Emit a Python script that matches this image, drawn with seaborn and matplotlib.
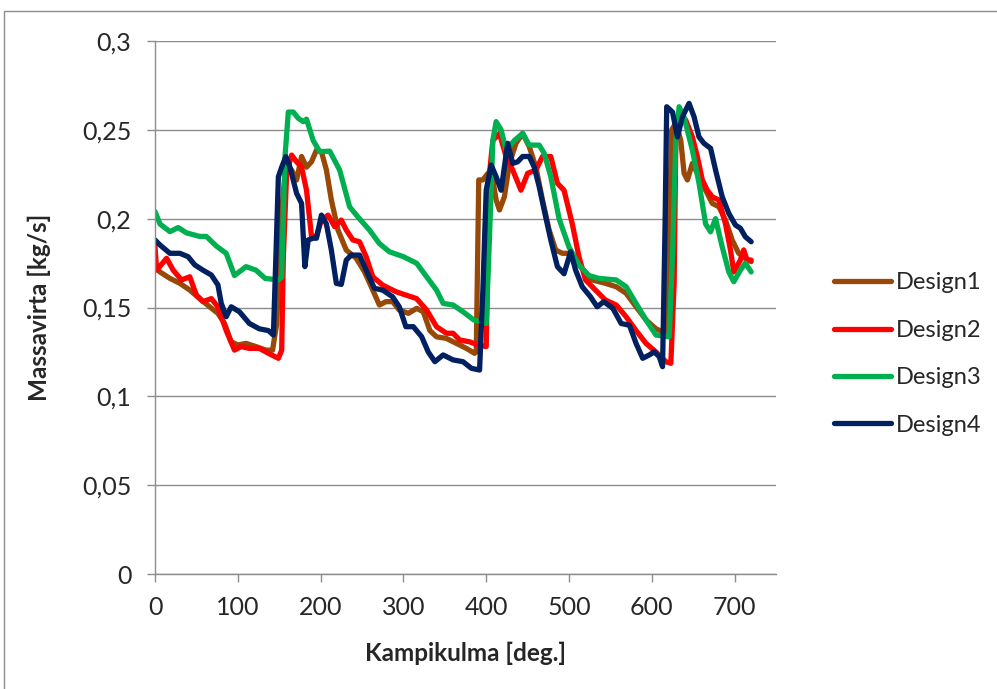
import pandas as pd
import matplotlib
matplotlib.use('Agg')
import matplotlib.pyplot as plt
import seaborn as sns
from matplotlib.patches import Rectangle
from matplotlib.ticker import FuncFormatter

# Kampikulma [deg.] ja massavirta [kg/s] jokaiselle designille
x1 = [0, 6, 18, 30, 42, 54, 66, 76, 84, 92, 100, 110, 122, 134, 142, 147, 151, 155, 159, 165,
      171, 177, 183, 189, 195, 201, 207, 213, 221, 231, 243, 253, 263, 271, 279, 287, 295, 306,
      316, 324, 332, 340, 352, 364, 376, 386, 388, 391, 396, 402, 408, 412, 416, 422, 428, 436,
      444, 452, 460, 468, 476, 484, 492, 500, 512, 528, 544, 557, 569, 581, 593, 605, 613, 618,
      621, 624, 629, 635, 639, 643, 649, 657, 665, 673, 681, 689, 697, 705, 713, 720]
design1 = [0.173, 0.170, 0.1664, 0.1636, 0.1598, 0.155, 0.1504, 0.1467, 0.141, 0.1307, 0.1289,
           0.1298, 0.128, 0.126, 0.126, 0.141, 0.188, 0.216, 0.229, 0.2274, 0.2218, 0.235, 0.229,
           0.232, 0.2386, 0.2377, 0.2274, 0.2105, 0.1936, 0.1823, 0.1777, 0.1701, 0.1598, 0.1514,
           0.1533, 0.1533, 0.1486, 0.1467, 0.1495, 0.1476, 0.137, 0.1335, 0.1326, 0.1298, 0.127,
           0.1242, 0.125, 0.2218, 0.2218, 0.2255, 0.2218, 0.2105, 0.2049, 0.2124, 0.2311, 0.2424,
           0.248, 0.2405, 0.229, 0.2105, 0.1936, 0.1823, 0.1805, 0.1805, 0.174, 0.1655, 0.1636,
           0.1617, 0.158, 0.1504, 0.143, 0.138, 0.1364, 0.135, 0.196, 0.25, 0.2537, 0.244, 0.2255,
           0.2218, 0.2311, 0.2236, 0.216, 0.2086, 0.2067, 0.1992, 0.188, 0.1805, 0.1777, 0.1758]

x2 = [0, 2, 14, 22, 32, 42, 50, 58, 68, 76, 86, 96, 104, 114, 126, 137, 149, 153, 155, 159,
      165, 171, 177, 183, 189, 195, 201, 209, 217, 225, 231, 239, 247, 255, 263, 275, 291, 303,
      316, 328, 340, 352, 360, 368, 380, 390, 400, 402, 404, 408, 416, 424, 432, 442, 450, 460,
      468, 478, 486, 494, 504, 512, 520, 532, 544, 557, 569, 581, 593, 605, 617, 623, 627, 629,
      633, 641, 649, 655, 661, 667, 673, 681, 689, 695, 699, 707, 711, 715, 720]
design2 = [0.1842, 0.171, 0.1777, 0.171, 0.1655, 0.1673, 0.157, 0.1533, 0.155, 0.1504, 0.137,
           0.126, 0.128, 0.127, 0.127, 0.1242, 0.1214, 0.126, 0.1786, 0.2255, 0.2358, 0.232,
           0.229, 0.216, 0.19, 0.19, 0.1992, 0.202, 0.1955, 0.1992, 0.1936, 0.188, 0.187, 0.1786,
           0.1673, 0.1626, 0.1589, 0.157, 0.155, 0.1486, 0.1392, 0.1355, 0.1355, 0.1317, 0.1307,
           0.1289, 0.128, 0.18, 0.2255, 0.244, 0.248, 0.235, 0.2274, 0.216, 0.2255, 0.2274, 0.235,
           0.235, 0.2199, 0.216, 0.197, 0.1786, 0.1655, 0.1598, 0.1542, 0.1514, 0.1448, 0.137,
           0.1298, 0.125, 0.1195, 0.1186, 0.164, 0.244, 0.259, 0.2555, 0.246, 0.235, 0.2218, 0.216,
           0.2123, 0.2105, 0.197, 0.1824, 0.17, 0.1767, 0.1824, 0.1767, 0.1767]

x3 = [0, 6, 18, 28, 38, 54, 62, 74, 86, 96, 110, 122, 133, 149, 153, 157, 161, 167, 173, 179,
      183, 191, 199, 211, 223, 235, 245, 259, 271, 283, 300, 316, 328, 340, 348, 360, 372, 385,
      400, 404, 408, 412, 418, 424, 434, 444, 452, 464, 470, 478, 488, 500, 512, 524, 536, 557,
      569, 581, 593, 605, 621, 625, 629, 633, 639, 649, 657, 665, 671, 677, 685, 693, 699, 707,
      713, 720]
design3 = [0.204, 0.197, 0.1927, 0.195, 0.192, 0.19, 0.19, 0.1846, 0.1805, 0.168, 0.173, 0.171,
           0.1664, 0.1655, 0.167, 0.2349, 0.26, 0.26, 0.2565, 0.2546, 0.256, 0.244, 0.2377, 0.238,
           0.2274, 0.2067, 0.201, 0.1936, 0.186, 0.1814, 0.1786, 0.1749, 0.1673, 0.1598, 0.1523,
           0.1514, 0.1476, 0.143, 0.141, 0.19, 0.244, 0.2546, 0.25, 0.2386, 0.244, 0.248, 0.2414,
           0.2414, 0.2368, 0.2236, 0.2, 0.184, 0.174, 0.168, 0.1664, 0.1655, 0.1617, 0.1523, 0.143,
           0.1345, 0.1335, 0.179, 0.244, 0.263, 0.257, 0.2386, 0.22, 0.197, 0.1926, 0.2, 0.1842,
           0.17, 0.1645, 0.171, 0.175, 0.17]

x4 = [0, 6, 18, 30, 40, 48, 58, 68, 76, 80, 86, 92, 102, 114, 126, 137, 143, 146, 149, 153,
      158, 163, 171, 177, 181, 185, 191, 195, 201, 207, 213, 219, 225, 231, 237, 247, 255, 265,
      275, 287, 295, 303, 312, 322, 330, 338, 348, 360, 372, 382, 392, 396, 400, 406, 412, 418,
      426, 432, 438, 444, 452, 458, 464, 470, 478, 486, 494, 502, 508, 516, 526, 534, 542, 553,
      563, 573, 581, 589, 597, 603, 609, 613, 616, 618, 625, 631, 637, 645, 651, 657, 663, 671,
      677, 685, 693, 701, 707, 713, 720]
design4 = [0.188, 0.1852, 0.1805, 0.1805, 0.1786, 0.174, 0.171, 0.1683, 0.1627, 0.1524, 0.1448,
           0.1504, 0.1476, 0.141, 0.138, 0.137, 0.1345, 0.1786, 0.2236, 0.229, 0.235, 0.229,
           0.2143, 0.2086, 0.173, 0.188, 0.189, 0.189, 0.202, 0.197, 0.1823, 0.1636, 0.163, 0.1767,
           0.1795, 0.1795, 0.171, 0.1608, 0.1598, 0.156, 0.1504, 0.1392, 0.1392, 0.1336, 0.125,
           0.1195, 0.1233, 0.1205, 0.1195, 0.1158, 0.1148, 0.16, 0.216, 0.2302, 0.2236, 0.216,
           0.2424, 0.2311, 0.232, 0.235, 0.235, 0.229, 0.218, 0.2049, 0.188, 0.173, 0.169, 0.1814,
           0.171, 0.1617, 0.156, 0.1504, 0.1533, 0.1495, 0.141, 0.14, 0.1298, 0.1214, 0.1233,
           0.125, 0.1223, 0.1167, 0.196, 0.263, 0.26, 0.246, 0.2574, 0.2649, 0.2574, 0.246, 0.2424,
           0.2396, 0.2274, 0.2124, 0.203, 0.1964, 0.1946, 0.1898, 0.187]

series = ['Design1', 'Design2', 'Design3', 'Design4']
colors = ['#984807', '#FF0000', '#00B050', '#002060']

frames = []
for name, xs, ys in zip(series, [x1, x2, x3, x4], [design1, design2, design3, design4]):
    frames.append(pd.DataFrame({'Kampikulma': xs, 'Massavirta': ys, 'Design': name}))
df = pd.concat(frames, ignore_index=True)

sns.set_style('white')
plt.rcParams['font.family'] = ['Lato', 'DejaVu Sans']

fig = plt.figure(figsize=(9.97, 6.89), dpi=100)
ax = fig.add_axes([155 / 997, 1 - 574 / 689, (776 - 155) / 997, (574 - 41) / 689])

sns.lineplot(data=df, x='Kampikulma', y='Massavirta', hue='Design', palette=colors,
             estimator=None, sort=False, linewidth=3.8, ax=ax)
for line in ax.get_lines():
    line.set_solid_capstyle('round')
    line.set_solid_joinstyle('round')

ax.set_xlim(0, 750)
ax.set_ylim(0, 0.3)
ax.set_xticks(range(0, 701, 100))
ax.set_yticks([0, 0.05, 0.1, 0.15, 0.2, 0.25, 0.3])
ax.yaxis.set_major_formatter(FuncFormatter(lambda v, p: ('%g' % round(v, 2)).replace('.', ',')))

grid_col = '#8c8c8c'
ax.grid(axis='y', color=grid_col, linewidth=1)
ax.set_axisbelow(True)
for s in ['top', 'right']:
    ax.spines[s].set_visible(False)
for s in ['left', 'bottom']:
    ax.spines[s].set_color(grid_col)
    ax.spines[s].set_linewidth(1)
ax.tick_params(axis='both', direction='out', length=6, width=1, color=grid_col,
               labelsize=18, left=True, bottom=True)
ax.tick_params(axis='x', pad=10)
ax.tick_params(axis='y', pad=11)

ax.set_xlabel('Kampikulma [deg.]', fontsize=17.5, fontweight='bold', labelpad=16)
ax.set_ylabel('Massavirta [kg/s]', fontsize=17.5, fontweight='bold', labelpad=22)

ax.legend(loc='center left', bbox_to_anchor=(834 / 997, 1 - 354 / 689),
          bbox_transform=fig.transFigure, frameon=False, fontsize=17,
          handlelength=2.4, handletextpad=0.2, labelspacing=1.12, borderpad=0,
          borderaxespad=0)

# kaavion reunus
fig.patches.append(Rectangle((4 / 997, -0.05), 1.2, (689 - 11) / 689 + 0.05,
                             transform=fig.transFigure, fill=False,
                             edgecolor='#8c8c8c', linewidth=1))

plt.savefig('out.png', dpi=100)
